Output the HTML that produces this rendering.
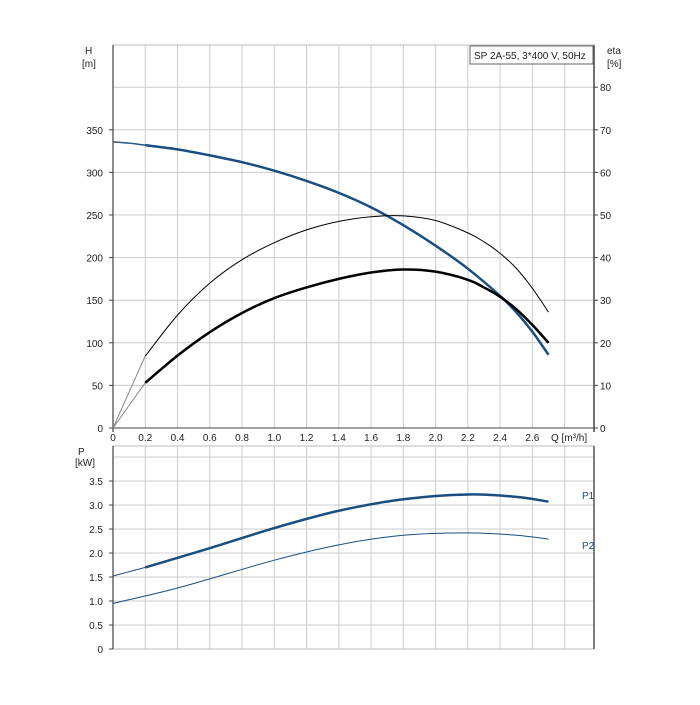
<!DOCTYPE html>
<html><head><meta charset="utf-8"><style>
body{margin:0;background:#fff}
svg text{font-family:"Liberation Sans",sans-serif;font-size:10px;fill:#222}
</style></head><body>
<svg id="s" width="700" height="700" xmlns="http://www.w3.org/2000/svg"></svg>
<script>
const s=document.getElementById('s');let h='';
const X=q=>113+161.3*q, YH=v=>428-0.852*v, YE=e=>428-4.26*e, YP=p=>649-48*p;
for(let i=1;i<=14;i++){const x=X(i*0.2);h+=`<line x1="${x}" y1="45" x2="${x}" y2="428" stroke="#ccc"/><line x1="${x}" y1="446" x2="${x}" y2="649" stroke="#ccc"/>`;}
for(let v=50;v<=400;v+=50){const y=YH(v);h+=`<line x1="113" y1="${y}" x2="594" y2="${y}" stroke="#ccc"/>`;}
for(let p=0.5;p<=4;p+=0.5){const y=YP(p);h+=`<line x1="113" y1="${y}" x2="594" y2="${y}" stroke="#ccc"/>`;}
h+=`<rect x="113" y="45" width="481" height="383" fill="none" stroke="#bbb"/><rect x="113" y="446" width="481" height="203" fill="none" stroke="#bbb"/>`;
h+=`<line x1="113" y1="45" x2="113" y2="432" stroke="#666" stroke-width="1.5"/><line x1="594" y1="45" x2="594" y2="432" stroke="#444" stroke-width="1.5"/><line x1="113" y1="428" x2="598" y2="428" stroke="#444"/>`;
h+=`<line x1="113" y1="446" x2="113" y2="649" stroke="#666" stroke-width="1.5"/><line x1="594" y1="446" x2="594" y2="649" stroke="#555" stroke-width="1.5"/>`;
for(let v=0;v<=350;v+=50){const y=YH(v);h+=`<text x="103" y="${y+4}" text-anchor="end">${v}</text><line x1="109" y1="${y}" x2="113" y2="${y}" stroke="#444"/>`;}
for(let e=0;e<=80;e+=10){const y=YE(e);h+=`<text x="600" y="${y+4}">${e}</text><line x1="594" y1="${y}" x2="598" y2="${y}" stroke="#444"/>`;}
for(let i=0;i<=13;i++){const q=i*0.2;h+=`<text x="${X(q)}" y="441" text-anchor="middle">${i==0?'0':q.toFixed(1)}</text>`;}
h+=`<text x="551" y="441">Q [m³/h]</text>`;
for(let p=0;p<=3.5;p+=0.5){const y=YP(p);h+=`<text x="103" y="${y+4}" text-anchor="end">${p==0?'0':p.toFixed(1)}</text><line x1="109" y1="${y}" x2="113" y2="${y}" stroke="#444"/>`;}
h+=`<text x="85" y="54">H</text><text x="82" y="67">[m]</text><text x="607" y="54">eta</text><text x="607" y="67">[%]</text>`;
h+=`<text x="78" y="455">P</text><text x="75" y="466">[kW]</text>`;
h+=`<rect x="470" y="46" width="123" height="18" fill="#fff" stroke="#666"/><text x="474" y="59">SP 2A-55, 3*400 V, 50Hz</text>`;
h+=`<text x="582" y="499" style="fill:#1a4e80">P1</text><text x="582" y="549" style="fill:#1a4e80">P2</text>`;
function cr(pts,fx,fy){let P=pts.map(p=>[fx(p[0]),fy(p[1])]);let d=`M${P[0][0]},${P[0][1]}`;for(let i=0;i<P.length-1;i++){const p1=P[i],p2=P[i+1];const p0=P[i-1]||[2*p1[0]-p2[0],2*p1[1]-p2[1]];const p3=P[i+2]||[2*p2[0]-p1[0],2*p2[1]-p1[1]];d+=` C${p1[0]+(p2[0]-p0[0])/6},${p1[1]+(p2[1]-p0[1])/6} ${p2[0]-(p3[0]-p1[0])/6},${p2[1]-(p3[1]-p1[1])/6} ${p2[0]},${p2[1]}`;}return d;}
function line(pts,fx,fy,c,w){h+=`<path d="${cr(pts,fx,fy)}" fill="none" stroke="${c}" stroke-width="${w}"/>`;}
const B='#1a4e80';
line([[0,336],[0.1,334.3],[0.2,332]],X,YH,'#2a5a88',1.5);
line([[0.2,332],[0.4,327],[0.6,320],[0.8,312],[1.0,302],[1.2,290],[1.4,276],[1.6,259],[1.8,238],[2.0,214],[2.2,187],[2.4,155],[2.5,136],[2.6,113],[2.7,86]],X,YH,B,2.5);
line([[0,0],[0.2,16.9]],X,YE,'#888',1);
line([[0.2,16.9],[0.4,26.5],[0.6,34],[0.8,39.5],[1.0,43.5],[1.2,46.5],[1.4,48.5],[1.6,49.6],[1.8,49.8],[2.0,48.7],[2.2,45.8],[2.3,43.7],[2.4,41.0],[2.5,37.5],[2.6,32.8],[2.7,27.2]],X,YE,'#000',1);
line([[0,0],[0.2,10.6]],X,YE,'#888',1);
line([[0.2,10.6],[0.4,17],[0.6,22.5],[0.8,27],[1.0,30.5],[1.2,33],[1.4,35],[1.6,36.5],[1.8,37.2],[2.0,36.7],[2.2,34.8],[2.3,33.0],[2.4,30.8],[2.5,27.9],[2.6,24.2],[2.7,20]],X,YE,'#000',2.5);
line([[0,1.52],[0.2,1.7]],X,YP,B,1);
line([[0.2,1.7],[0.6,2.1],[1.0,2.52],[1.4,2.88],[1.8,3.12],[2.2,3.22],[2.5,3.17],[2.7,3.07]],X,YP,B,2.5);
line([[0,0.95],[0.4,1.27],[1.0,1.85],[1.4,2.17],[1.8,2.37],[2.2,2.42],[2.5,2.37],[2.7,2.29]],X,YP,B,1);
s.innerHTML=h;
</script>
</body></html>
